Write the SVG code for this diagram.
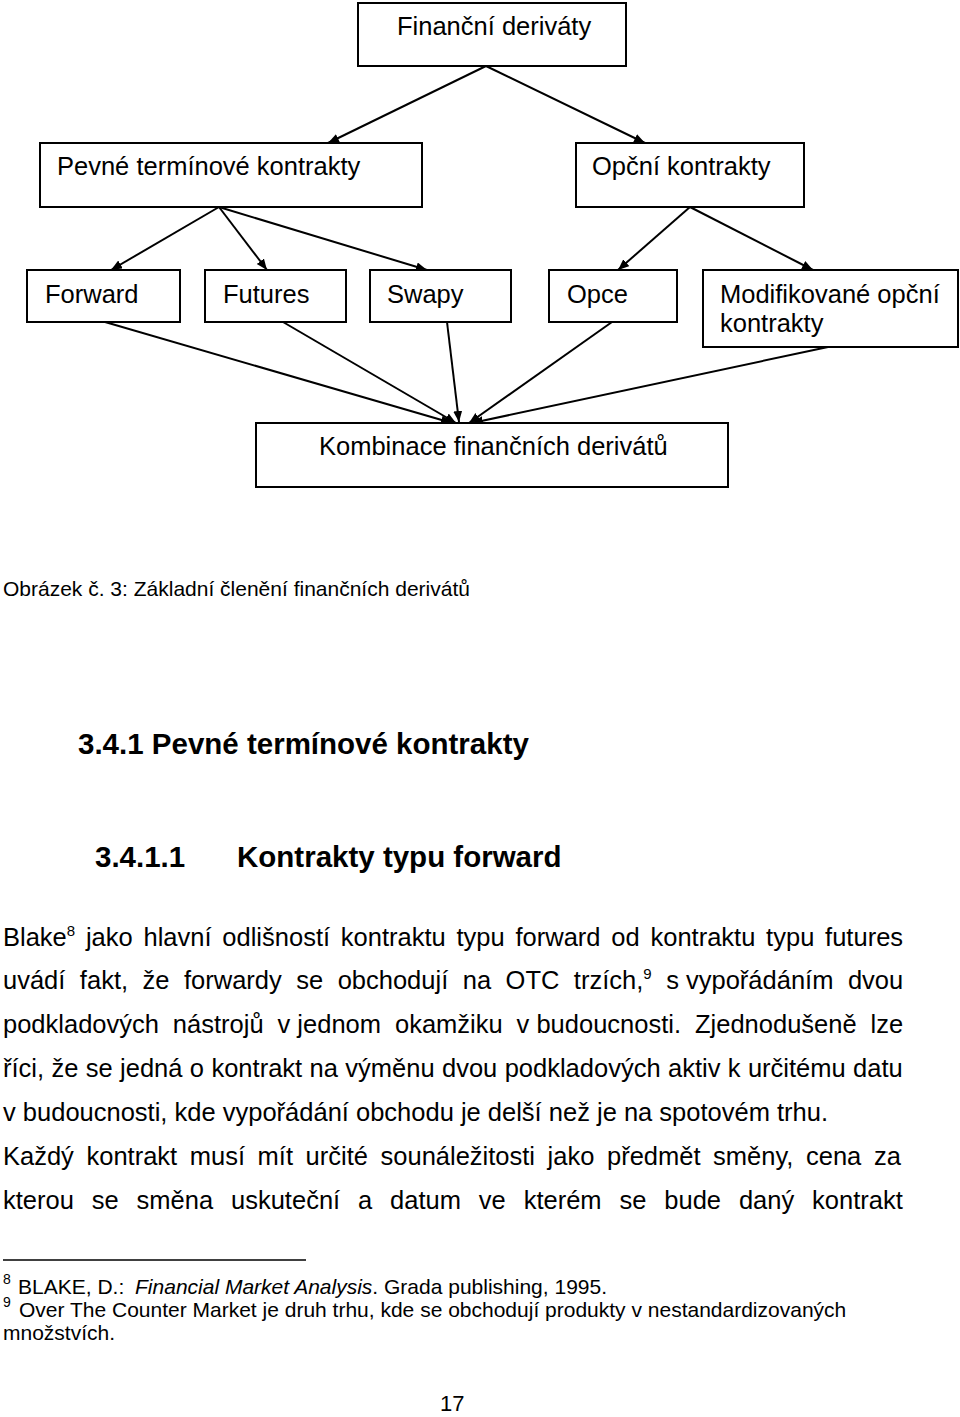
<svg xmlns="http://www.w3.org/2000/svg" width="960" height="1417" viewBox="0 0 960 1417">
<style>
  text { font-family: "Liberation Sans", Arial, sans-serif; fill: #000; }
  .box rect { fill: #fff; stroke: #000; stroke-width: 2; }
  .lbl { font-size: 25.5px; }
  .conn line { stroke: #000; stroke-width: 2; }
  .body { font-size: 25.5px; }
  .h { font-size: 29.5px; font-weight: bold; }
  .fn { font-size: 21px; }
  .sup { font-size: 15px; }
  .fsup { font-size: 14px; }
  .pg { font-size: 22px; }
</style>
<defs>
  <marker id="ah" markerUnits="userSpaceOnUse" markerWidth="12" markerHeight="10" refX="11" refY="4.5" orient="auto">
    <path d="M0,0 L11,4.5 L0,9 z" fill="#000"/>
  </marker>
</defs>
<rect width="960" height="1417" fill="#fff"/>

<g id="connectors" class="conn">
  <line x1="486" y1="66" x2="328" y2="143" marker-end="url(#ah)"/>
  <line x1="486" y1="66" x2="645" y2="143" marker-end="url(#ah)"/>
  <line x1="219" y1="207" x2="111" y2="270" marker-end="url(#ah)"/>
  <line x1="219" y1="207" x2="267" y2="270" marker-end="url(#ah)"/>
  <line x1="219" y1="207" x2="427" y2="270" marker-end="url(#ah)"/>
  <line x1="690" y1="207" x2="618" y2="270" marker-end="url(#ah)"/>
  <line x1="690" y1="207" x2="813" y2="270" marker-end="url(#ah)"/>
  <line x1="105" y1="322" x2="452" y2="423" marker-end="url(#ah)"/>
  <line x1="283" y1="322" x2="456" y2="423" marker-end="url(#ah)"/>
  <line x1="447" y1="322" x2="459" y2="422" marker-end="url(#ah)"/>
  <line x1="612" y1="322" x2="469" y2="423" marker-end="url(#ah)"/>
  <line x1="828" y1="347" x2="472" y2="423" marker-end="url(#ah)"/>
</g>

<g id="n-financni" class="box">
  <rect x="358" y="3" width="268" height="63"/>
  <text class="lbl" x="397" y="35">Finanční deriváty</text>
</g>
<g id="n-pevne" class="box">
  <rect x="40" y="143" width="382" height="64"/>
  <text class="lbl" x="57" y="175">Pevné termínové kontrakty</text>
</g>
<g id="n-opcni" class="box">
  <rect x="576" y="143" width="228" height="64"/>
  <text class="lbl" x="592" y="175">Opční kontrakty</text>
</g>
<g id="n-forward" class="box">
  <rect x="27" y="270" width="153" height="52"/>
  <text class="lbl" x="45" y="303">Forward</text>
</g>
<g id="n-futures" class="box">
  <rect x="205" y="270" width="141" height="52"/>
  <text class="lbl" x="223" y="303">Futures</text>
</g>
<g id="n-swapy" class="box">
  <rect x="370" y="270" width="141" height="52"/>
  <text class="lbl" x="387" y="303">Swapy</text>
</g>
<g id="n-opce" class="box">
  <rect x="549" y="270" width="128" height="52"/>
  <text class="lbl" x="567" y="303">Opce</text>
</g>
<g id="n-modif" class="box">
  <rect x="703" y="270" width="255" height="77"/>
  <text class="lbl" x="720" y="303">Modifikované opční</text>
  <text class="lbl" x="720" y="332">kontrakty</text>
</g>
<g id="n-kombinace" class="box">
  <rect x="256" y="423" width="472" height="64"/>
  <text class="lbl" x="319" y="455">Kombinace finančních derivátů</text>
</g>

<g id="page-text">
  <text class="fn" x="3" y="596">Obrázek č. 3: Základní členění finančních derivátů</text>
  <text class="h" x="78" y="754">3.4.1 Pevné termínové kontrakty</text>
  <text class="h" x="95" y="867">3.4.1.1</text>
  <text class="h" x="237" y="867">Kontrakty typu forward</text>

  <text class="body" x="3" y="946" word-spacing="3.7">Blake<tspan class="sup" dy="-10">8</tspan><tspan dy="10"> jako hlavní odlišností kontraktu typu forward od kontraktu typu futures</tspan></text>
  <text class="body" x="3" y="989" word-spacing="7.4">uvádí fakt, že forwardy se obchodují na OTC trzích,<tspan class="sup" dy="-10">9</tspan><tspan dy="10"> </tspan><tspan word-spacing="0">s vypořádáním</tspan> dvou</text>
  <text class="body" x="3" y="1033" word-spacing="6.85">podkladových nástrojů <tspan word-spacing="0">v jednom</tspan> okamžiku <tspan word-spacing="0">v budoucnosti.</tspan> Zjednodušeně lze</text>
  <text class="body" x="3" y="1077" word-spacing="0.3">říci, že se jedná o kontrakt na výměnu dvou podkladových aktiv k určitému datu</text>
  <text class="body" x="3" y="1121">v budoucnosti, kde vypořádání obchodu je delší než je na spotovém trhu.</text>
  <text class="body" x="3" y="1165" word-spacing="5.5">Každý kontrakt musí mít určité sounáležitosti jako předmět směny, cena za</text>
  <text class="body" x="3" y="1209" word-spacing="10.8">kterou se směna uskuteční a datum ve kterém se bude daný kontrakt</text>

  <line x1="3" y1="1260" x2="306" y2="1260" stroke="#000" stroke-width="1.5"/>
  <text class="fsup" x="3" y="1284">8</text>
  <text class="fn" x="18" y="1294">BLAKE, D.: <tspan dx="5" font-style="italic">Financial Market Analysis</tspan>. Grada publishing, 1995.</text>
  <text class="fsup" x="3" y="1307">9</text>
  <text class="fn" x="19" y="1317">Over The Counter Market je druh trhu, kde se obchodují produkty v nestandardizovaných</text>
  <text class="fn" x="3" y="1340">množstvích.</text>
  <text class="pg" x="440" y="1411">17</text>
</g>
</svg>
